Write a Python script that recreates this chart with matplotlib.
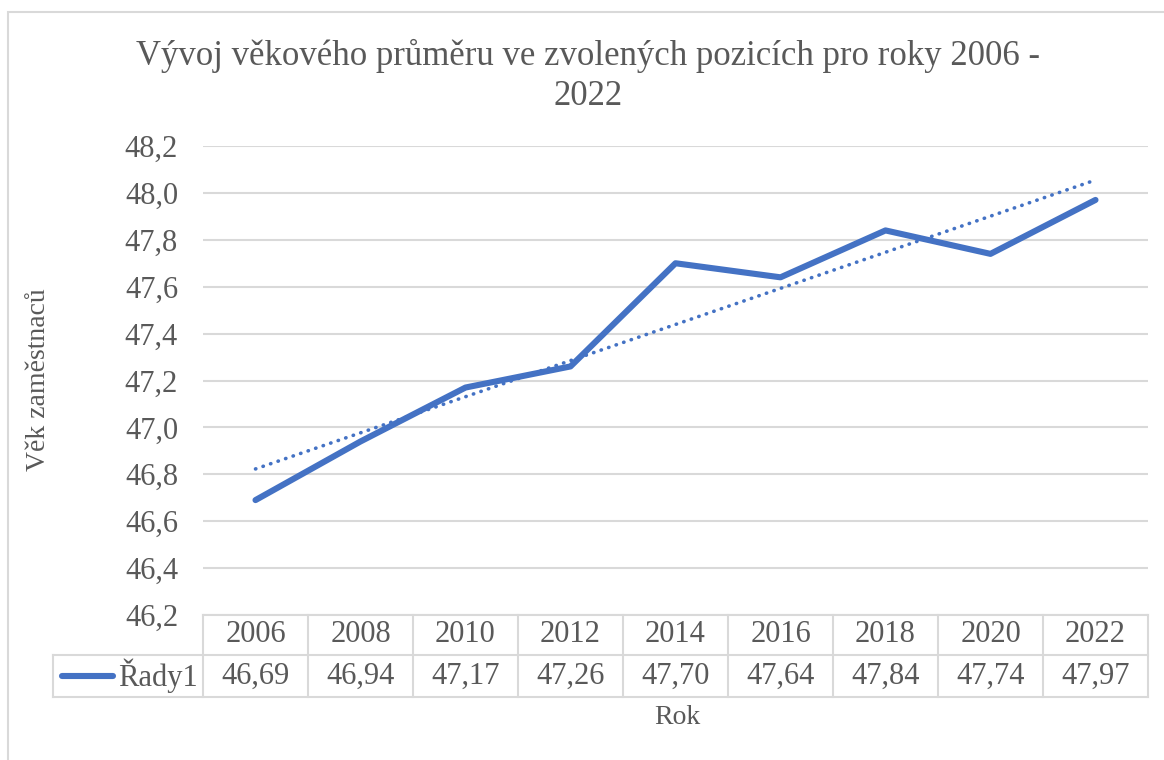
import numpy as np
import matplotlib
matplotlib.use("Agg")
import matplotlib.pyplot as plt
from matplotlib.transforms import blended_transform_factory
from matplotlib.patches import Rectangle

years = ["2006", "2008", "2010", "2012", "2014", "2016", "2018", "2020", "2022"]
values = [46.69, 46.94, 47.17, 47.26, 47.70, 47.64, 47.84, 47.74, 47.97]
series_name = "Řady1"
y_ticks = [46.2, 46.4, 46.6, 46.8, 47.0, 47.2, 47.4, 47.6, 47.8, 48.0, 48.2]
title = "Vývoj věkového průměru ve zvolených pozicích pro roky 2006 -\n2022"
xlabel = "Rok"
ylabel = "Věk zaměstnaců"

plt.rcParams['font.family'] = ['Liberation Serif', 'DejaVu Serif']
TXT = '#595959'
GRID = '#D9D9D9'
BLUE = '#4472C4'

W, H = 1164, 760
fig = plt.figure(figsize=(W / 100, H / 100), dpi=100)

# plot area in pixels
L, R, T, B = 203, 1148, 146, 615
ax = fig.add_axes([L / W, 1 - B / H, (R - L) / W, (B - T) / H])

x = np.arange(len(years))
ax.plot(x, values, color=BLUE, lw=4.4, solid_capstyle='round', solid_joinstyle='round', zorder=3)
coef = np.polyfit(x, values, 1)
ax.plot(x, np.polyval(coef, x), color=BLUE, lw=2.6, linestyle=(0, (0.1, 2.1)),
        dash_capstyle='round', zorder=2)

ax.set_xlim(-0.5, len(years) - 0.5)
ax.set_ylim(y_ticks[0], y_ticks[-1])
ax.set_yticks(y_ticks)
ax.set_yticklabels([f"{t:.1f}".replace('.', ',') for t in y_ticks])
ax.tick_params(axis='y', length=0, pad=18, labelsize=22, labelcolor=TXT)
ax.set_xticks([])
ax.grid(axis='y', color=GRID, lw=1.5)
for s in ax.spines.values():
    s.set_visible(False)

# data table
tr = blended_transform_factory(ax.transData, ax.transAxes)
ph = B - T
row1 = (655 - B) / ph
row2 = (697 - B) / ph
left_cell = (53 - L) / (R - L)
tra = ax.transAxes
lk = dict(color=GRID, lw=1.5, clip_on=False)
ax.plot([0, 1], [0, 0], transform=tra, **lk)
ax.plot([left_cell, 1], [-row1, -row1], transform=tra, **lk)
ax.plot([left_cell, 1], [-row2, -row2], transform=tra, **lk)
for i in range(len(years) + 1):
    ax.plot([i - 0.5, i - 0.5], [0, -row2], transform=tr, **lk)
ax.plot([left_cell, left_cell], [-row1, -row2], transform=tra, **lk)

for i, (yr, v) in enumerate(zip(years, values)):
    ax.text(i, -row1 / 2, yr, transform=tr, ha='center', va='center', fontsize=22, color=TXT)
    ax.text(i, -(row1 + row2) / 2, f"{v:.2f}".replace('.', ','), transform=tr,
            ha='center', va='center', fontsize=22, color=TXT)
ym = -(row1 + row2) / 2
ax.plot([(62 - L) / (R - L), (113 - L) / (R - L)], [ym, ym], transform=tra,
        color=BLUE, lw=4.4, solid_capstyle='round', clip_on=False)
ax.text((118 - L) / (R - L), ym, series_name, transform=tra, ha='left', va='center',
        fontsize=22, color=TXT)

fig.text(588 / W, 1 - 76 / H, title, ha='center', va='center', fontsize=25,
         color=TXT, linespacing=1.3)
fig.text(677 / W, 1 - 718 / H, xlabel, ha='center', va='center', fontsize=20, color=TXT)
fig.text(39 / W, 1 - 380 / H, ylabel, ha='center', va='center', fontsize=20,
         color=TXT, rotation=90)

fig.patches.append(Rectangle((8 / W, -0.05), 1.1, 1 - 12 / H + 0.05, transform=fig.transFigure,
                             fill=False, edgecolor=GRID, lw=1.5, figure=fig))

fig.savefig("out.png", dpi=100)
